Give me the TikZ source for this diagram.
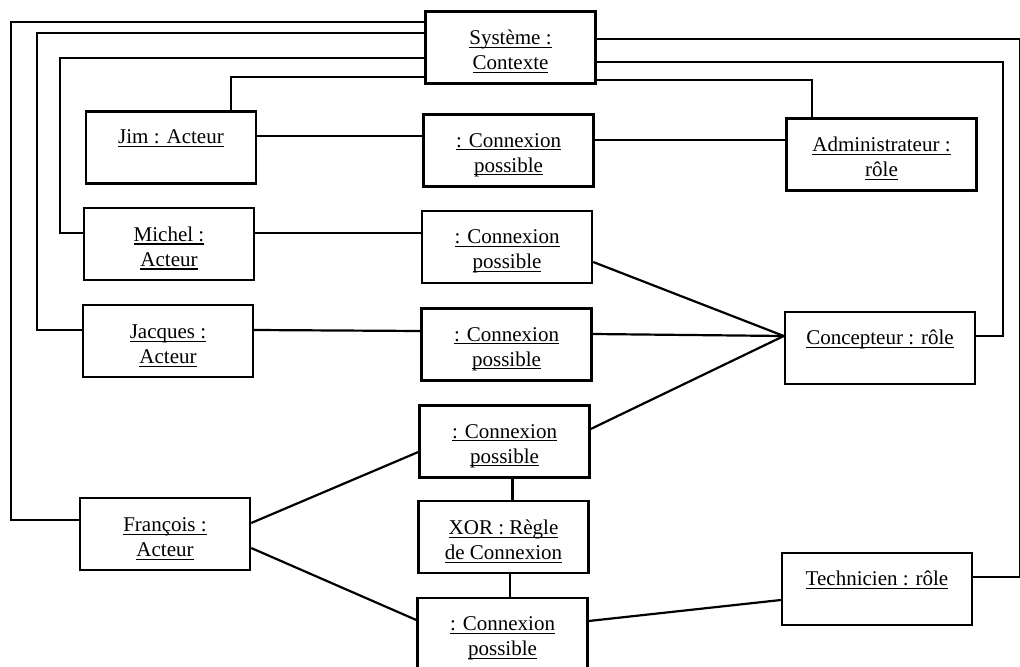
\documentclass[tikz,border=0pt]{standalone}
\usepackage{fontspec}
\setmainfont{Liberation Serif}
\newcommand\uln[1]{\setbox0\hbox{#1}\rlap{\rule[-1.6pt]{\wd0}{0.55pt}}\box0}
\tikzset{
	obj/.style={draw, line width=1.2pt, minimum width=85pt, minimum height=36pt, align=center, inner sep=2pt, font=\fontsize{10.5}{12.5}\selectfont, execute at begin node={\rule{0pt}{24pt}}},
	role/.style={obj, minimum width=95pt},
	oneline/.style={text height=11.5pt, text depth=15pt},
	lnk/.style={line width=1.1pt}
}
\begin{document}
\begin{tikzpicture}[x=0.5pt,y=-0.5pt]
					\useasboundingbox (0,0) rectangle (1020,667);
					\node[obj] (sys) at (510.5,47.5) {\uln{Système :}\\\uln{Contexte}};
					\node[obj,oneline] (jim) at (171,147.5) {\uln{Jim : Acteur}};
					\node[obj] (c1) at (508.5,150.5) {\uln{: Connexion}\\\uln{possible}};
					\node[role] (adm) at (881.5,154.5) {\uln{Administrateur :}\\\uln{rôle}};
					\node[obj] (mic) at (169,244) {\uln{Michel :}\\\uln{Acteur}};
					\node[obj] (c2) at (507,247) {\uln{: Connexion}\\\uln{possible}};
					\node[obj] (jac) at (168,341) {\uln{Jacques :}\\\uln{Acteur}};
					\node[obj] (c3) at (506.5,344.5) {\uln{: Connexion}\\\uln{possible}};
					\node[role,oneline] (con) at (880,348) {\uln{Concepteur : rôle}};
					\node[obj] (c4) at (504.5,441.5) {\uln{: Connexion}\\\uln{possible}};
					\node[obj] (xor) at (503.5,537) {\uln{XOR : Règle}\\\uln{de Connexion}};
					\node[obj] (fra) at (165,534) {\uln{François :}\\\uln{Acteur}};
					\node[obj] (c5) at (502.5,634) {\uln{: Connexion}\\\uln{possible}};
					\node[role,oneline] (tec) at (877,589) {\uln{Technicien : rôle}};
					\draw[lnk] ([yshift=12.75pt]sys.west) -| ([xshift=-34pt,yshift=7pt]fra.west) -- ([yshift=7pt]fra.west);
					\draw[lnk] ([yshift=7.25pt]sys.west) -| ([xshift=-22.5pt,yshift=5.5pt]jac.west) -- ([yshift=5.5pt]jac.west);
					\draw[lnk] ([yshift=-5.25pt]sys.west) -| ([xshift=-11.5pt,yshift=5.5pt]mic.west) -- ([yshift=5.5pt]mic.west);
					\draw[lnk] ([yshift=-14.75pt]sys.west) -| ([xshift=30pt]jim.north);
					\draw[lnk] ([yshift=4.25pt]sys.east) -| ([xshift=23.5pt,yshift=6pt]tec.east) -- ([yshift=6pt]tec.east);
					\draw[lnk] ([yshift=-7.25pt]sys.east) -| ([xshift=13.5pt,yshift=6pt]con.east) -- ([yshift=6pt]con.east);
					\draw[lnk] ([yshift=-16.25pt]sys.east) -| ([xshift=-34.75pt]adm.north);
					\draw[lnk] ([yshift=5.75pt]jim.east) -- ([yshift=7.25pt]c1.west);
					\draw[lnk] ([yshift=5.25pt]c1.east) -- ([yshift=7.25pt]adm.west);
					\draw[lnk] ([yshift=5.5pt]mic.east) -- ([yshift=7pt]c2.west);
					\draw[lnk] ([yshift=5.5pt]jac.east) -- ([yshift=6.75pt]c3.west);
					\draw[lnk] ([yshift=-7.5pt]c2.east) -- ([yshift=6pt]con.west);
					\draw[lnk] ([yshift=5.25pt]c3.east) -- ([yshift=6pt]con.west);
					\draw[lnk] ([yshift=6.25pt]c4.east) -- ([yshift=6pt]con.west);
					\draw[lnk] ([yshift=5.5pt]fra.east) -- ([yshift=-5.25pt]c4.west);
					\draw[lnk] ([yshift=-7pt]fra.east) -- ([yshift=7pt]c5.west);
					\draw[lnk] ([xshift=4pt]c4.south) -- ([xshift=4.5pt]xor.north);
					\draw[lnk] ([xshift=3.25pt]xor.south) -- ([xshift=3.75pt]c5.north);
					\draw[lnk] ([yshift=6.5pt]c5.east) -- ([yshift=-5.5pt]tec.west);
				\end{tikzpicture}
\end{document}
